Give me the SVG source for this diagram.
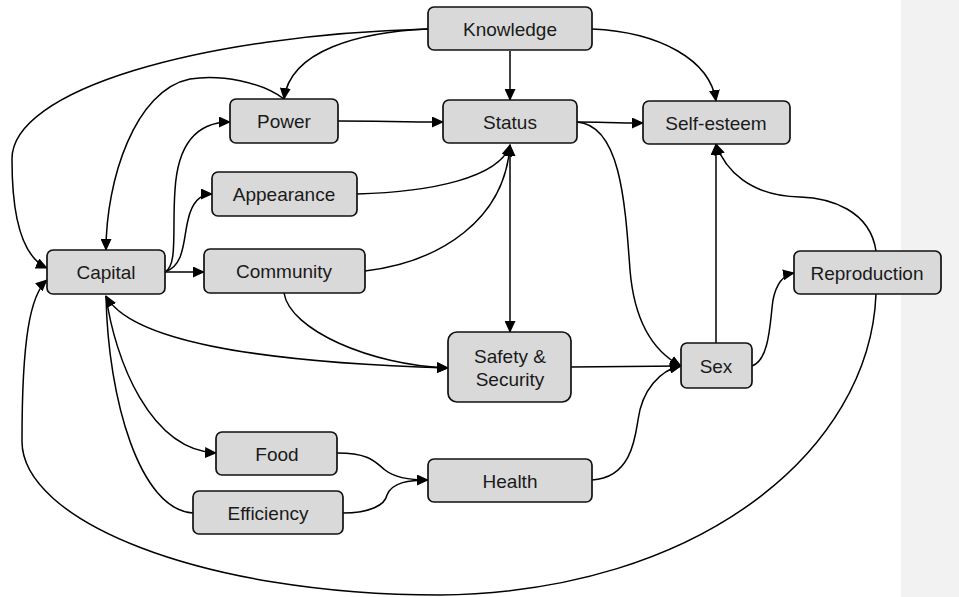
<svg xmlns="http://www.w3.org/2000/svg" width="959" height="597" viewBox="0 0 959 597">
<style>
.node rect{fill:#d9d9d9;stroke:#111;stroke-width:1.7}
.node text{font-family:"Liberation Sans",Arial,sans-serif;font-size:19px;fill:#1a1a1a;text-anchor:middle;dominant-baseline:central}
#edges path{fill:none;stroke:#000;stroke-width:1.5;marker-end:url(#ah)}
#edges path.both{marker-start:url(#ah)}
#edges path.plain{marker-end:none}
</style>
<defs>
<marker id="ah" markerUnits="userSpaceOnUse" markerWidth="12" markerHeight="11" refX="11" refY="5.5" orient="auto-start-reverse" viewBox="0 0 12 11">
<path d="M0,0 L12,5.5 L0,11 Z" fill="#000"/>
</marker>
</defs>
<rect x="0" y="0" width="959" height="597" fill="#fff"/>
<rect x="901" y="0" width="58" height="597" fill="#f2f2f2"/>
<g id="edges">
<path d="M510,51 L510,100"/>
<path d="M428,29 C360,32 290,50 284,99"/>
<path d="M428,29 C200,35 10,90 12,160 C12,225 25,258 47,268"/>
<path d="M284,99 C262,82 220,74 190,79 C135,90 106,180 106,250"/>
<path d="M165,272 C178,265 172,230 175,190 C178,140 200,122 230,122"/>
<path d="M165,272 C185,265 183,240 188,220 C192,202 200,194 212,194"/>
<path d="M165,272 L204,272"/>
<path d="M338,121 C380,121 400,122 443,122"/>
<path d="M577,122 C600,122 615,123 643,123"/>
<path d="M592,29 C660,32 710,60 716,101"/>
<path d="M357,194 C430,192 500,178 510,145"/>
<path d="M365,271 C440,262 505,220 510,145"/>
<path class="both" d="M510,145 L510,332"/>
<path d="M577,122 C620,125 625,200 630,270 C635,330 660,355 681,366"/>
<path d="M571,367 L681,366"/>
<path d="M592,480 C630,478 635,440 638,420 C642,390 660,370 681,366"/>
<path d="M716,343 L716,144"/>
<path d="M752,366 C770,360 770,320 773,300 C776,285 782,275 794,273"/>
<path d="M876,251 C870,210 830,198 800,197 C750,196 725,170 716,144"/>
<path d="M876,294 C870,450 700,592 440,595 C200,595 20,520 22,440 C22,340 30,295 47,280"/>
<path class="both" d="M106,296 C130,340 250,362 448,368"/>
<path d="M284,293 C290,330 370,365 448,368"/>
<path d="M106,296 C115,360 150,450 216,453"/>
<path class="plain" d="M193,513 C140,510 108,400 106,296"/>
<path class="plain" d="M337,453 C370,453 375,462 385,470 C395,478 410,480 428,480"/>
<path d="M343,513 C370,513 385,505 387,495 C392,482 410,480 428,480"/>
</g>
<g id="knowledge" class="node"><rect x="428" y="7" width="164" height="43" rx="6"/><text x="510" y="29">Knowledge</text></g>
<g id="power" class="node"><rect x="230" y="99" width="108" height="44" rx="6"/><text x="284" y="121">Power</text></g>
<g id="status" class="node"><rect x="443" y="100" width="134" height="43" rx="6"/><text x="510" y="122">Status</text></g>
<g id="self-esteem" class="node"><rect x="643" y="101" width="147" height="43" rx="6"/><text x="716" y="123">Self-esteem</text></g>
<g id="appearance" class="node"><rect x="212" y="172" width="145" height="44" rx="6"/><text x="284" y="194">Appearance</text></g>
<g id="capital" class="node"><rect x="47" y="250" width="118" height="44" rx="6"/><text x="106" y="272">Capital</text></g>
<g id="community" class="node"><rect x="204" y="249" width="161" height="44" rx="6"/><text x="284" y="271">Community</text></g>
<g id="reproduction" class="node"><rect x="794" y="251" width="147" height="43" rx="6"/><text x="867" y="273">Reproduction</text></g>
<g id="safety" class="node"><rect x="448" y="332" width="123" height="70" rx="9"/><text x="510" y="356">Safety &amp;</text><text x="510" y="379">Security</text></g>
<g id="sex" class="node"><rect x="681" y="343" width="71" height="45" rx="6"/><text x="716" y="366">Sex</text></g>
<g id="health" class="node"><rect x="428" y="459" width="164" height="43" rx="6"/><text x="510" y="481">Health</text></g>
<g id="food" class="node"><rect x="216" y="432" width="121" height="43" rx="6"/><text x="277" y="454">Food</text></g>
<g id="efficiency" class="node"><rect x="193" y="491" width="150" height="43" rx="6"/><text x="268" y="513">Efficiency</text></g>
</svg>
